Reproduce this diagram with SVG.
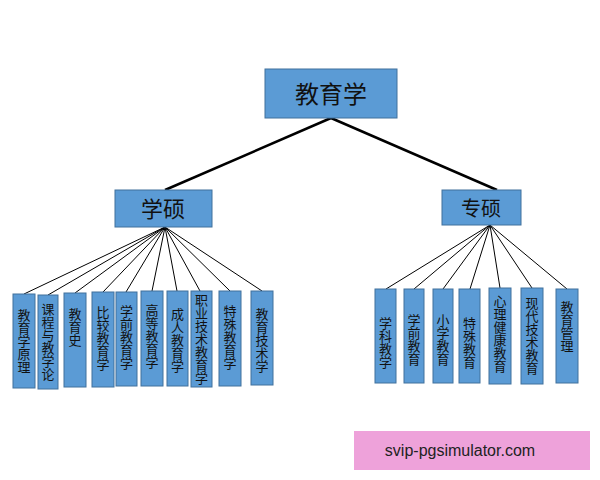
<svg xmlns="http://www.w3.org/2000/svg" width="600" height="480" viewBox="0 0 600 480">
<style>
.b{fill:#5b9bd5;stroke:#41719c;stroke-width:1}
.t{font-family:"Noto Sans CJK SC","Noto Sans",sans-serif;fill:#111;text-anchor:middle}
.v{font-size:13px;writing-mode:vertical-rl;dominant-baseline:central}
.c line{stroke:#000}
</style>
<rect width="600" height="480" fill="#fff"/>
<g class="c">
<line x1="331" y1="118" x2="165" y2="190" stroke-width="2.5"/>
<line x1="331" y1="118" x2="497" y2="190" stroke-width="2.5"/>
<g stroke-width="1">
<line x1="165" y1="227" x2="24" y2="294"/><line x1="165" y1="227" x2="48" y2="295"/>
<line x1="165" y1="227" x2="75" y2="293"/><line x1="165" y1="227" x2="103" y2="292"/>
<line x1="165" y1="227" x2="126" y2="292"/><line x1="165" y1="227" x2="152" y2="291"/>
<line x1="165" y1="227" x2="177" y2="291"/><line x1="165" y1="227" x2="200" y2="291"/>
<line x1="165" y1="227" x2="230" y2="291"/><line x1="165" y1="227" x2="262" y2="291"/>
<line x1="490" y1="225" x2="386" y2="289"/><line x1="490" y1="225" x2="414" y2="289"/>
<line x1="490" y1="225" x2="443" y2="289"/><line x1="490" y1="225" x2="470" y2="289"/>
<line x1="490" y1="225" x2="500" y2="288"/><line x1="490" y1="225" x2="532" y2="288"/>
<line x1="490" y1="225" x2="567" y2="289"/>
</g>
</g>
<g id="root"><rect class="b" x="265" y="69" width="132" height="49"/><text class="t" x="331" y="103" font-size="24">教育学</text></g>
<g id="xueshuo"><rect class="b" x="115" y="190" width="97" height="37"/><text class="t" x="163" y="217" font-size="22">学硕</text></g>
<g id="zhuanshuo"><rect class="b" x="442" y="190" width="79" height="35"/><text class="t" x="481" y="216" font-size="20">专硕</text></g>
<g id="l1"><rect class="b" x="13" y="294" width="22" height="94"/><text class="t v" x="24" y="341">教育学原理</text></g>
<g id="l2"><rect class="b" x="38" y="295" width="20" height="94"/><text class="t v" x="48" y="342">课程与教学论</text></g>
<g id="l3"><rect class="b" x="64" y="293" width="22" height="94"/><text class="t v" x="75" y="327">教育史</text></g>
<g id="l4"><rect class="b" x="92" y="292" width="22" height="95"/><text class="t v" x="103" y="338">比较教育学</text></g>
<g id="l5"><rect class="b" x="116" y="292" width="21" height="94"/><text class="t v" x="126.5" y="337">学前教育学</text></g>
<g id="l6"><rect class="b" x="141" y="291" width="22" height="95"/><text class="t v" x="152" y="336">高等教育学</text></g>
<g id="l7"><rect class="b" x="167" y="291" width="21" height="95"/><text class="t v" x="177.5" y="340">成人教育学</text></g>
<g id="l8"><rect class="b" x="191" y="291" width="21" height="96"/><text class="t v" x="201.5" y="339">职业技术教育学</text></g>
<g id="l9"><rect class="b" x="219" y="291" width="22" height="95"/><text class="t v" x="230" y="337">特殊教育学</text></g>
<g id="l10"><rect class="b" x="251" y="291" width="22" height="94"/><text class="t v" x="262" y="340">教育技术学</text></g>
<g id="r1"><rect class="b" x="375" y="289" width="21" height="94"/><text class="t v" x="385.5" y="343">学科教学</text></g>
<g id="r2"><rect class="b" x="404" y="289" width="20" height="94"/><text class="t v" x="414" y="340">学前教育</text></g>
<g id="r3"><rect class="b" x="433" y="289" width="20" height="94"/><text class="t v" x="443" y="340">小学教育</text></g>
<g id="r4"><rect class="b" x="459" y="289" width="21" height="94"/><text class="t v" x="469.5" y="343">特殊教育</text></g>
<g id="r5"><rect class="b" x="489" y="288" width="22" height="96"/><text class="t v" x="500" y="334">心理健康教育</text></g>
<g id="r6"><rect class="b" x="521" y="288" width="22" height="96"/><text class="t v" x="532" y="336">现代技术教育</text></g>
<g id="r7"><rect class="b" x="556" y="289" width="22" height="94"/><text class="t v" x="567" y="327">教育管理</text></g>
<g id="wm"><rect x="354" y="431" width="236" height="39" fill="#eea2da"/><text x="460" y="456" font-family="Liberation Sans,sans-serif" font-size="16" text-anchor="middle" fill="#222">svip-pgsimulator.com</text></g>
</svg>
